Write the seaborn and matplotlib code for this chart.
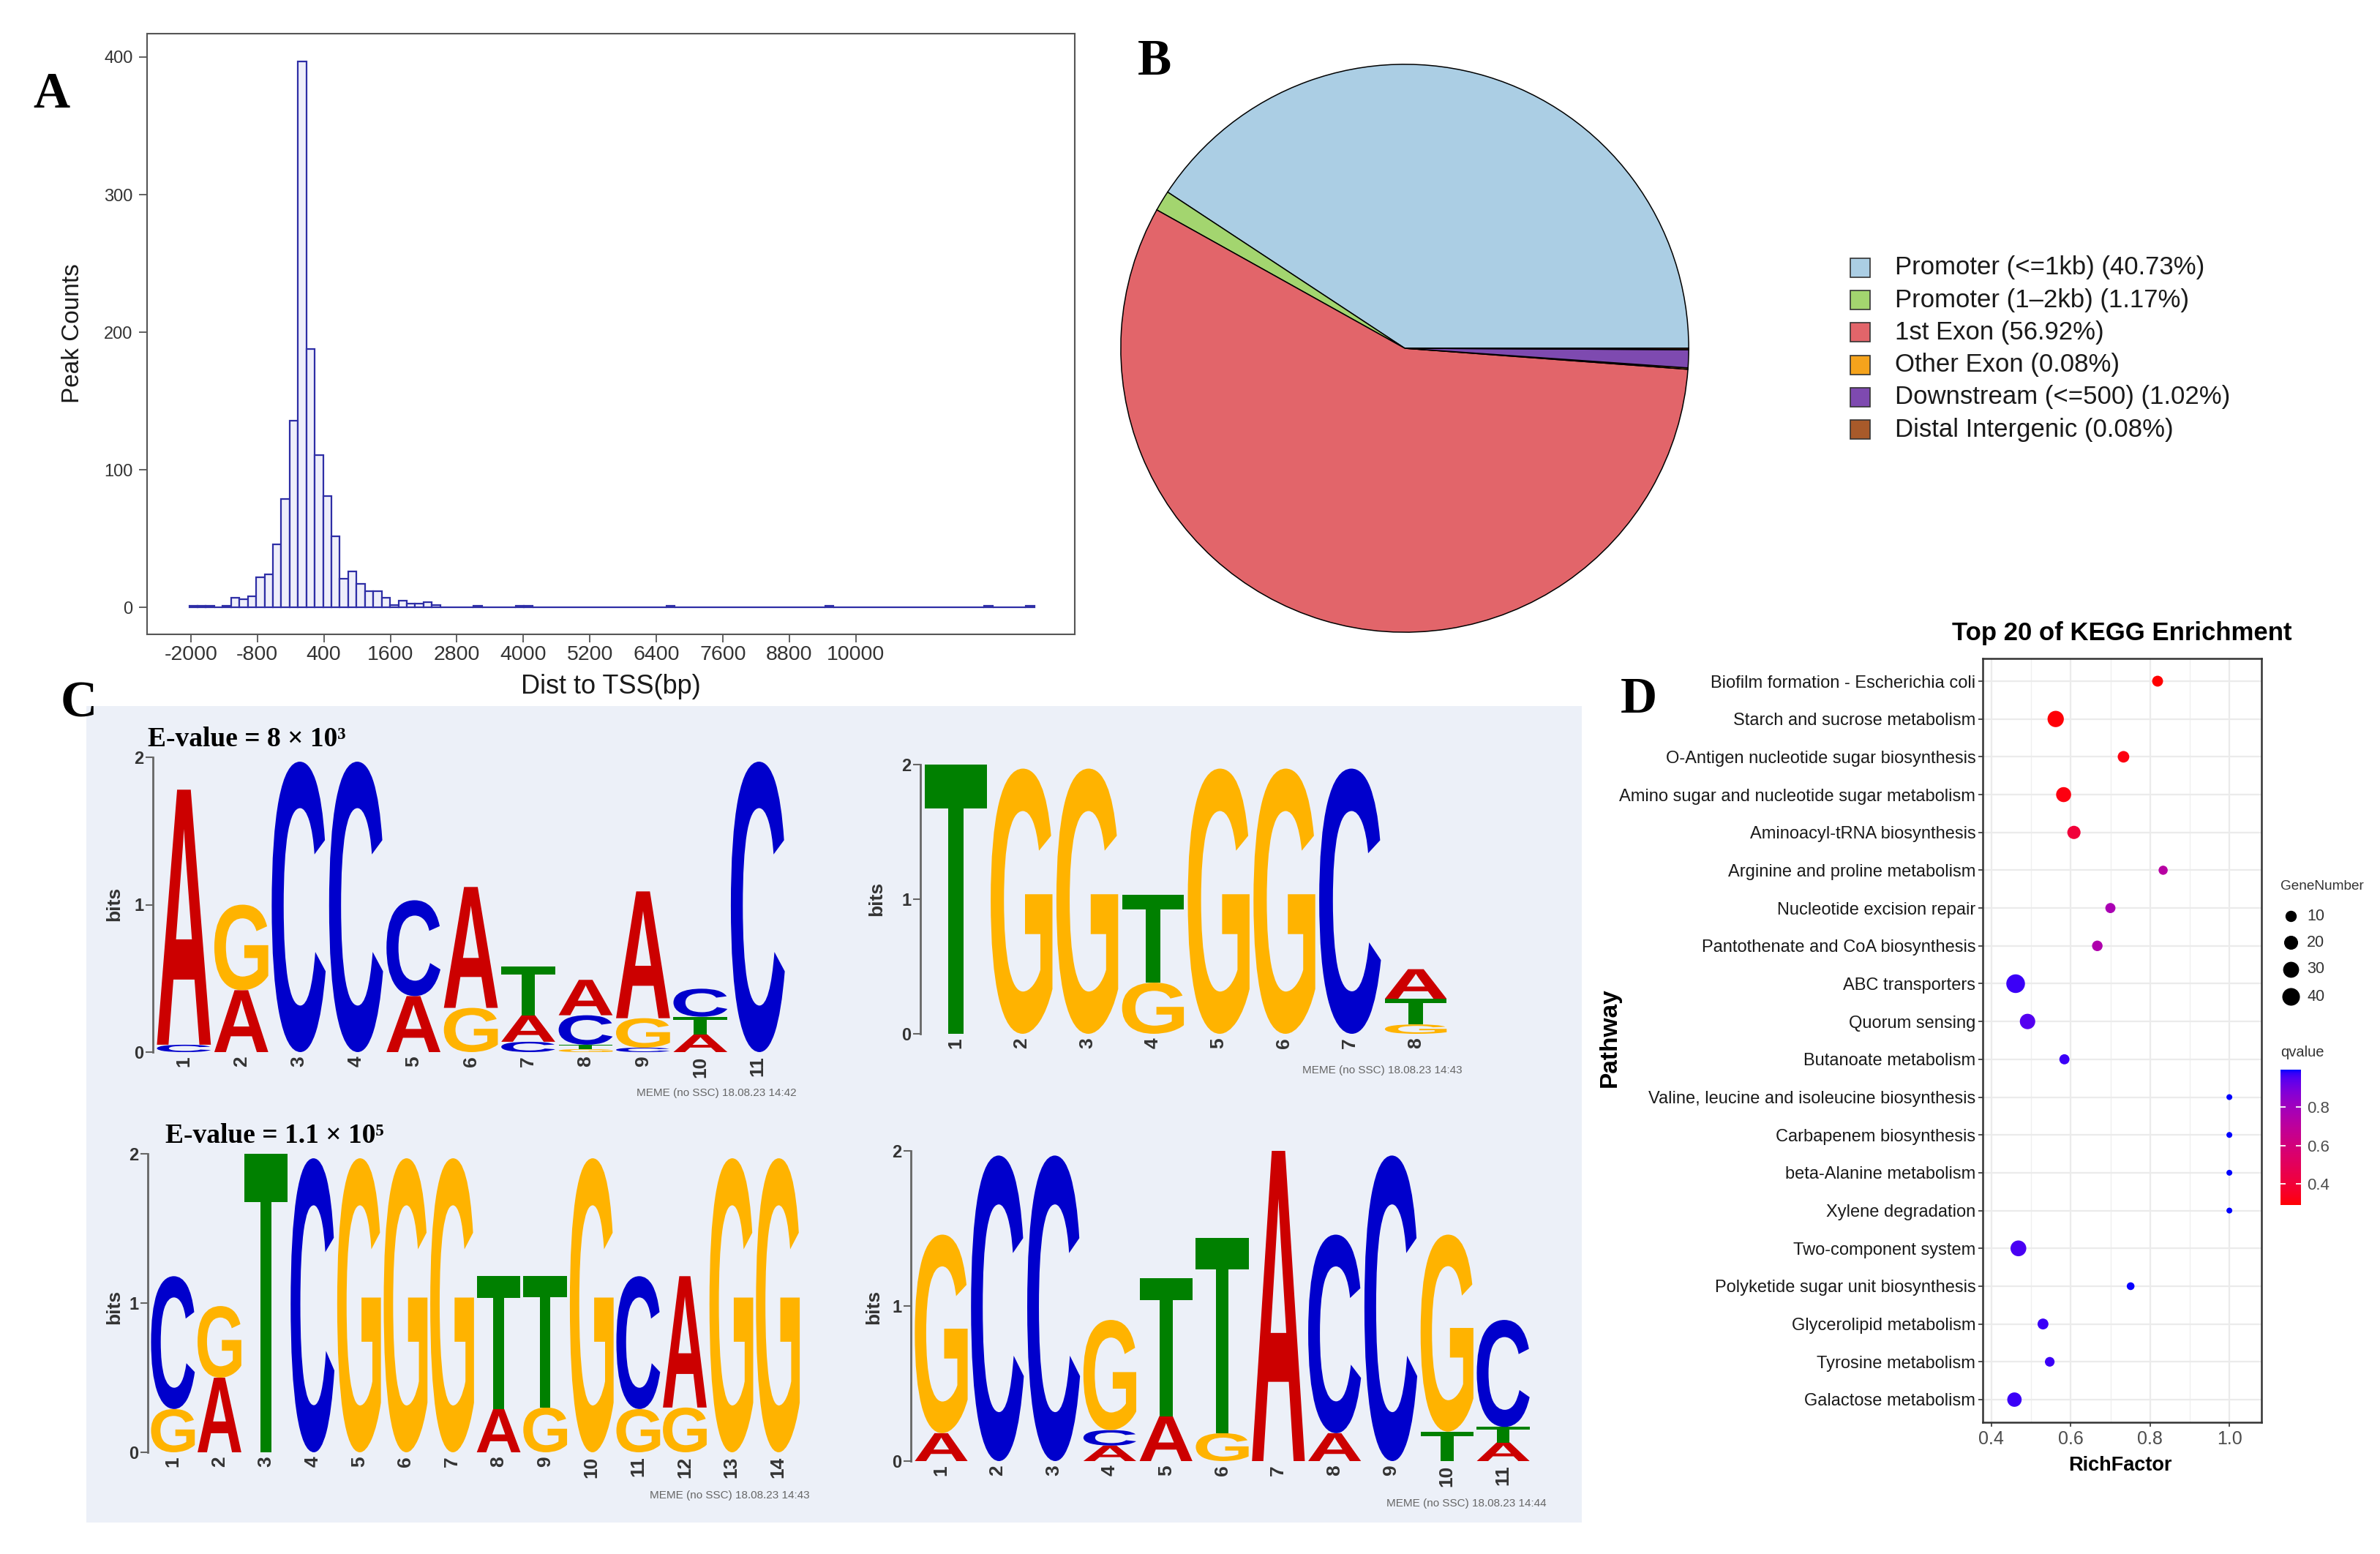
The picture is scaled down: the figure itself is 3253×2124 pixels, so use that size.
import numpy as np
import pandas as pd
import matplotlib
matplotlib.use("Agg")
import matplotlib.pyplot as plt
import seaborn as sns
from matplotlib import font_manager as fm
from matplotlib.patches import Rectangle, PathPatch
from matplotlib.textpath import TextPath
from matplotlib.transforms import Affine2D
from matplotlib.font_manager import FontProperties
from matplotlib.colors import LinearSegmentedColormap, Normalize
from matplotlib.cm import ScalarMappable
from matplotlib.ticker import FixedLocator

# ---------------- data ----------------
# A: distance of peaks to TSS (centre of each non-empty bin) and counts
dist_to_tss = [-1955, -1804, -1653, -1351, -1200, -1049, -898, -747, -596, -445,
               -294, -143, 9, 160, 311, 462, 613, 764, 915, 1066, 1217, 1368, 1519,
               1670, 1821, 1972, 2123, 2274, 2425, 3180, 3935, 4086, 6653, 9522,
               12391, 13146]
peak_counts = [1, 1, 1, 1, 7, 6, 8, 22, 24, 46, 79, 136, 397, 188, 111, 81, 52, 21,
               26, 17, 12, 12, 7, 2, 5, 3, 3, 4, 2, 1, 1, 1, 1, 1, 1, 1]
tss_ticks = [-2000, -800, 400, 1600, 2800, 4000, 5200, 6400, 7600, 8800, 10000]
tss_binwidth = 151
tss_binrange = (-2030, 13221)

# B: peak annotation
anno_labels = ["Promoter (<=1kb)", "Promoter (1\u20132kb)", "1st Exon", "Other Exon",
               "Downstream (<=500)", "Distal Intergenic"]
anno_pct = [40.73, 1.17, 56.92, 0.08, 1.02, 0.08]
anno_colors = ["#ABCEE4", "#A3D56F", "#E2656A", "#F5A31C", "#7E4AB0", "#A85A2A"]

# C: motifs (per position, letters bottom -> top with height in bits)
motif1 = [
    [("C", 0.05), ("A", 1.73)],
    [("A", 0.42), ("G", 0.58)],
    [("C", 1.97)],
    [("C", 1.97)],
    [("A", 0.38), ("C", 0.65)],
    [("G", 0.30), ("A", 0.82)],
    [("C", 0.07), ("A", 0.18), ("T", 0.33)],
    [("G", 0.02), ("T", 0.03), ("C", 0.20), ("A", 0.24)],
    [("C", 0.03), ("G", 0.20), ("A", 0.86)],
    [("A", 0.12), ("T", 0.12), ("C", 0.19)],
    [("C", 1.97)],
]
motif2 = [
    [("T", 2.0)],
    [("G", 1.97)],
    [("G", 1.97)],
    [("G", 0.38), ("T", 0.65)],
    [("G", 1.97)],
    [("G", 1.97)],
    [("C", 1.97)],
    [("G", 0.07), ("T", 0.19), ("A", 0.22)],
]
motif3 = [
    [("G", 0.29), ("C", 0.89)],
    [("A", 0.50), ("G", 0.48)],
    [("T", 2.0)],
    [("C", 1.97)],
    [("G", 1.97)],
    [("G", 1.97)],
    [("G", 1.97)],
    [("A", 0.29), ("T", 0.89)],
    [("G", 0.30), ("T", 0.88)],
    [("G", 1.97)],
    [("G", 0.29), ("C", 0.89)],
    [("G", 0.30), ("A", 0.88)],
    [("G", 1.97)],
    [("G", 1.97)],
]
motif4 = [
    [("A", 0.18), ("G", 1.28)],
    [("C", 1.97)],
    [("C", 1.97)],
    [("A", 0.10), ("C", 0.10), ("G", 0.71)],
    [("A", 0.29), ("T", 0.89)],
    [("G", 0.18), ("T", 1.26)],
    [("A", 2.0)],
    [("A", 0.18), ("C", 1.28)],
    [("C", 1.97)],
    [("T", 0.19), ("G", 1.27)],
    [("A", 0.12), ("T", 0.10), ("C", 0.69)],
]
meme_stamps = ["MEME (no SSC) 18.08.23 14:42", "MEME (no SSC) 18.08.23 14:43",
               "MEME (no SSC) 18.08.23 14:43", "MEME (no SSC) 18.08.23 14:44"]

# D: KEGG enrichment
pathways = ["Biofilm formation - Escherichia coli", "Starch and sucrose metabolism",
            "O-Antigen nucleotide sugar biosynthesis", "Amino sugar and nucleotide sugar metabolism",
            "Aminoacyl-tRNA biosynthesis", "Arginine and proline metabolism",
            "Nucleotide excision repair", "Pantothenate and CoA biosynthesis",
            "ABC transporters", "Quorum sensing", "Butanoate metabolism",
            "Valine, leucine and isoleucine biosynthesis", "Carbapenem biosynthesis",
            "beta-Alanine metabolism", "Xylene degradation", "Two-component system",
            "Polyketide sugar unit biosynthesis", "Glycerolipid metabolism",
            "Tyrosine metabolism", "Galactose metabolism"]
rich_factor = [0.819, 0.562, 0.733, 0.582, 0.608, 0.833, 0.700, 0.667, 0.461, 0.491,
               0.584, 1.0, 1.0, 1.0, 1.0, 0.468, 0.751, 0.530, 0.547, 0.458]
gene_number = [9, 32, 11, 25, 17, 5, 7, 8, 47, 27, 7, 2, 2, 2, 2, 29, 3, 9, 6, 22]
q_value = [0.29, 0.30, 0.31, 0.31, 0.40, 0.72, 0.77, 0.75, 0.97, 0.95, 0.97, 0.994,
           0.994, 0.994, 0.994, 0.96, 0.99, 0.97, 0.97, 0.97]

# ---------------- fonts ----------------
available = {f.name for f in fm.fontManager.ttflist}
NARROW = "Liberation Sans Narrow" if "Liberation Sans Narrow" in available else "Liberation Sans"
SANS = "Liberation Sans"
SERIF = ["Liberation Serif", "DejaVu Serif"]
plt.rcParams["font.family"] = [NARROW, "DejaVu Sans"]

W, H = 3253, 2124
fig = plt.figure(figsize=(W / 100, H / 100), dpi=100)
fig.patch.set_facecolor("white")


def box(l, t, r, b):
    return [l / W, 1 - b / H, (r - l) / W, (b - t) / H]


# canvas in pixel coordinates for labels and backgrounds
canvas = fig.add_axes([0, 0, 1, 1], zorder=-10)
canvas.set_xlim(0, W)
canvas.set_ylim(H, 0)
canvas.axis("off")

# ---------------- A: histogram ----------------
tss_df = pd.DataFrame({"dist": dist_to_tss, "count": peak_counts})
axa = fig.add_axes(box(201, 46, 1469, 867))
sns.histplot(data=tss_df, x="dist", weights="count", binwidth=tss_binwidth,
             binrange=tss_binrange, ax=axa,
             facecolor="#EEEEFA", edgecolor="#2E2EA6", linewidth=1.6)
axa.set_xlim(-2790, 13950)
axa.set_ylim(-19.5, 417)
axa.set_xticks(tss_ticks)
axa.set_xticklabels([str(t) for t in tss_ticks])
axa.set_yticks([0, 100, 200, 300, 400])
axa.set_xlabel("")
axa.set_ylabel("")
for s in axa.spines.values():
    s.set_color("#555555")
    s.set_linewidth(1.5)
axa.tick_params(axis="both", length=8, width=1.3, color="#555555", labelcolor="#333333")
axa.tick_params(axis="x", labelsize=20.5, pad=3)
axa.tick_params(axis="y", labelsize=17, pad=6)
canvas.text(100, 456, "Peak Counts", rotation=90, ha="center", va="center",
            fontsize=24, family=SANS, color="#1A1A1A")
canvas.text(835, 938, "Dist to TSS(bp)", ha="center", va="center", fontsize=26, color="#1A1A1A")

# ---------------- B: pie ----------------
axb = fig.add_axes(box(1920 - 392, 476 - 392, 1920 + 392, 476 + 392))
axb.pie(anno_pct, colors=anno_colors, startangle=0, counterclock=True,
        wedgeprops=dict(edgecolor="black", linewidth=1.1))
axb.set_xlim(-1.01, 1.01)
axb.set_ylim(-1.01, 1.01)
axb.set_facecolor("none")
for i, (lab, pct, col) in enumerate(zip(anno_labels, anno_pct, anno_colors)):
    yy = 366 + i * 44.2
    canvas.add_patch(Rectangle((2529, yy - 13), 27, 26, facecolor=col, edgecolor="#333333", lw=1.2))
    canvas.text(2590, yy, f"{lab} ({pct:.2f}%)", ha="left", va="center",
                fontsize=25, family=SANS, color="#1A1A1A")

# ---------------- C: sequence logos ----------------
canvas.add_patch(Rectangle((118, 965), 2162 - 118, 2081 - 965, facecolor="#ECF0F8", edgecolor="none"))
BASE_COLORS = {"A": "#CC0000", "C": "#0000CC", "G": "#FFB300", "T": "#008000"}
LOGO_FONT = FontProperties(family=SANS, weight="bold")


def draw_logo(ax, motif, letter_w=0.94):
    for i, stack in enumerate(motif, start=1):
        y0 = 0.0
        for letter, h in stack:
            path = TextPath((0, 0), letter, size=1, prop=LOGO_FONT)
            bb = path.get_extents()
            tr = (Affine2D().translate(-bb.x0, -bb.y0)
                  .scale(letter_w / bb.width, h / bb.height)
                  .translate(i - letter_w / 2, y0))
            ax.add_patch(PathPatch(tr.transform_path(path), facecolor=BASE_COLORS[letter],
                                   edgecolor="none", clip_on=False))
            y0 += h
    n = len(motif)
    ax.set_xlim(0.46, n + 0.5)
    ax.set_ylim(0, 2)
    ax.set_facecolor("none")
    for s in ["top", "right", "bottom"]:
        ax.spines[s].set_visible(False)
    ax.spines["left"].set_color("#666666")
    ax.spines["left"].set_linewidth(2)
    ax.spines["left"].set_bounds(0, 2)
    ax.set_yticks([0, 1, 2])
    ax.set_yticklabels(["0", "1", "2"], fontweight="bold", family=SANS)
    ax.set_xticks(range(1, n + 1))
    ax.set_xticklabels([str(k) for k in range(1, n + 1)], rotation=90,
                       fontweight="bold", family=SANS)
    ax.tick_params(axis="x", length=0, pad=4, labelsize=19, labelcolor="#333333")
    ax.tick_params(axis="y", length=7, width=1.5, color="#666666", labelsize=17,
                   labelcolor="#333333", pad=2)


logo_boxes = [(209, 1035, 1075, 1438), (1258, 1045, 1980, 1413),
              (202, 1577, 1095, 1985), (1245, 1573, 2093, 1997)]
bits_pos = [(156, 1235), (1198, 1228), (156, 1786), (1194, 1786)]
stamp_pos = [(1089, 1494), (1999, 1463), (1107, 2044), (2114, 2055)]
for motif, bx, bp, sp, stamp in zip([motif1, motif2, motif3, motif4], logo_boxes,
                                    bits_pos, stamp_pos, meme_stamps):
    axl = fig.add_axes(box(*bx))
    draw_logo(axl, motif)
    canvas.text(bp[0], bp[1], "bits", rotation=90, ha="center", va="center",
                fontsize=19, fontweight="bold", family=SANS, color="#333333")
    canvas.text(sp[0], sp[1], stamp, ha="right", va="center", fontsize=11, color="#666666")

canvas.text(202, 1010, "E-value = 8 \u00d7 10\u00b3", ha="left", va="center",
            fontsize=27, fontweight="bold", family=SERIF, color="black")
canvas.text(226, 1553, "E-value = 1.1 \u00d7 10\u2075", ha="left", va="center",
            fontsize=27, fontweight="bold", family=SERIF, color="black")


# ---------------- D: KEGG dot plot ----------------
M_XYZ = np.array([[0.4124564, 0.3575761, 0.1804375],
                  [0.2126729, 0.7151522, 0.0721750],
                  [0.0193339, 0.1191920, 0.9503041]])
WHITE = np.array([0.95047, 1.0, 1.08883])


def _srgb_to_lab(hexcol):
    c = np.array(matplotlib.colors.to_rgb(hexcol))
    lin = np.where(c <= 0.04045, c / 12.92, ((c + 0.055) / 1.055) ** 2.4)
    xyz = M_XYZ @ lin / WHITE
    d = 6 / 29
    f = np.where(xyz > d ** 3, np.cbrt(xyz), xyz / (3 * d * d) + 4 / 29)
    return np.array([116 * f[1] - 16, 500 * (f[0] - f[1]), 200 * (f[1] - f[2])])


def _lab_to_srgb(lab):
    L, a, b = lab
    fy = (L + 16) / 116
    f = np.array([fy + a / 500, fy, fy - b / 200])
    d = 6 / 29
    xyz = np.where(f > d, f ** 3, 3 * d * d * (f - 4 / 29)) * WHITE
    lin = np.clip(np.linalg.inv(M_XYZ) @ xyz, 0, 1)
    return np.clip(np.where(lin <= 0.0031308, 12.92 * lin, 1.055 * lin ** (1 / 2.4) - 0.055), 0, 1)


lab_lo, lab_hi = _srgb_to_lab("#FF0000"), _srgb_to_lab("#0000FF")
q_cmap = LinearSegmentedColormap.from_list(
    "q", [_lab_to_srgb(lab_lo * (1 - t) + lab_hi * t) for t in np.linspace(0, 1, 48)])
q_lo, q_hi = min(q_value), max(q_value)

g_lo, g_hi = 2, 47


def gene_area(g):
    d_px = 8 + np.sqrt((g - g_lo) / (g_hi - g_lo)) * 17.5
    return (d_px * 0.72) ** 2


size_lookup = {g: gene_area(g) for g in sorted(set(gene_number))}
kegg_df = pd.DataFrame({"Pathway": pathways, "RichFactor": rich_factor,
                        "GeneNumber": gene_number, "qvalue": q_value})

axd = fig.add_axes(box(2710, 900, 3091, 1944))
sns.scatterplot(data=kegg_df, x="RichFactor", y="Pathway", hue="qvalue", size="GeneNumber",
                palette=q_cmap, hue_norm=(q_lo, q_hi), sizes=size_lookup, linewidth=0,
                legend=False, ax=axd, zorder=3)
axd.set_ylim(len(pathways) - 0.4, -0.6)
axd.set_xlim(0.378, 1.081)
axd.set_xticks([0.4, 0.6, 0.8, 1.0])
axd.set_xticklabels(["0.4", "0.6", "0.8", "1.0"])
axd.xaxis.set_minor_locator(FixedLocator([0.5, 0.7, 0.9]))
axd.set_axisbelow(True)
axd.grid(True, which="major", color="#EBEBEB", linewidth=1.6)
axd.grid(True, which="minor", axis="x", color="#EFEFEF", linewidth=0.9)
axd.set_xlabel("")
axd.set_ylabel("")
for s in axd.spines.values():
    s.set_color("#333333")
    s.set_linewidth(1.8)
axd.tick_params(which="minor", length=0)
axd.tick_params(axis="both", length=4, width=1.2, color="#333333")
axd.tick_params(axis="y", labelsize=17, labelcolor="#1A1A1A", pad=3)
axd.tick_params(axis="x", labelsize=18, labelcolor="#4D4D4D", pad=4)

canvas.text(2900, 865, "Top 20 of KEGG Enrichment", ha="center", va="center",
            fontsize=25, fontweight="bold", color="black")
canvas.text(2200, 1418, "Pathway", rotation=90, ha="center", va="center",
            fontsize=24, fontweight="bold", family=SANS, color="black")
canvas.text(2898, 2003, "RichFactor", ha="center", va="center",
            fontsize=19.5, fontweight="bold", color="black")

# size legend
canvas.text(3117, 1211, "GeneNumber", ha="left", va="center", fontsize=13.7, color="#333333")
for g, yy in zip([10, 20, 30, 40], [1252, 1288, 1325, 1362]):
    canvas.scatter([3131], [yy], s=gene_area(g), color="black", linewidth=0)
    canvas.text(3153, yy, str(g), ha="left", va="center", fontsize=15.5, color="#333333")

# colour legend
canvas.text(3117, 1439, "qvalue", ha="left", va="center", fontsize=14.5, color="#333333")
cax = fig.add_axes(box(3117, 1462, 3145, 1647))
cb = fig.colorbar(ScalarMappable(norm=Normalize(q_lo, q_hi), cmap=q_cmap), cax=cax)
cb.outline.set_visible(False)
cb.set_ticks([0.4, 0.6, 0.8])
cb.set_ticklabels(["0.4", "0.6", "0.8"])
cax.tick_params(axis="y", which="both", direction="in", length=5, width=1.3, color="white",
                left=True, right=True, labelsize=16, labelcolor="#4D4D4D", pad=6)

# ---------------- panel letters ----------------
for letter, (x, y) in zip("ABCD", [(70, 130), (1578, 85), (108, 962), (2240, 957)]):
    canvas.text(x, y, letter, ha="center", va="center", fontsize=50,
                fontweight="bold", family=SERIF, color="black")

fig.savefig("out.png", dpi=100)
